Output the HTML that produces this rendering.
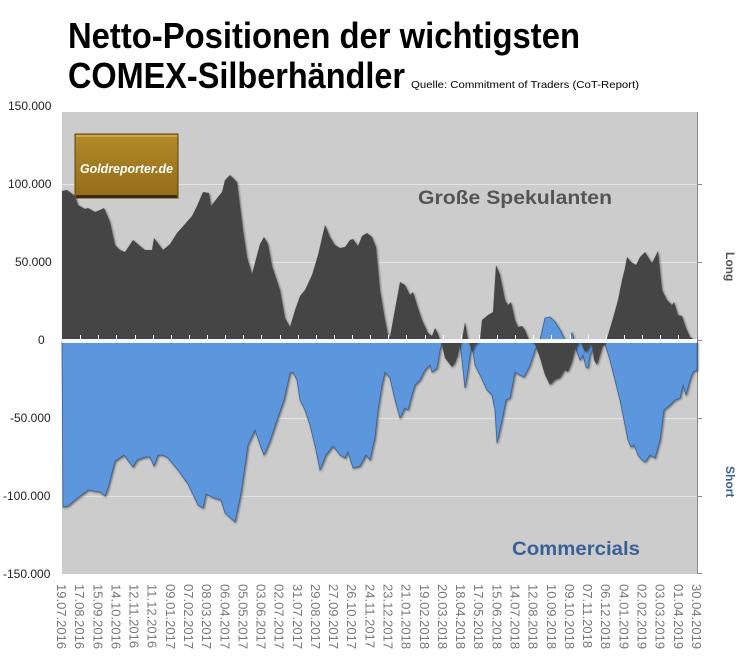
<!DOCTYPE html>
<html><head><meta charset="utf-8"><style>
html,body{margin:0;padding:0;background:#fff;}
svg{display:block;font-family:"Liberation Sans",sans-serif;}
</style></head><body>
<svg width="744" height="672" viewBox="0 0 744 672" xmlns="http://www.w3.org/2000/svg">
<defs>
<filter id="sh" x="-5%" y="-5%" width="110%" height="110%"><feDropShadow dx="1" dy="1" stdDeviation="1" flood-color="#000" flood-opacity="0.5"/></filter>
<linearGradient id="lg" x1="0" y1="0" x2="0" y2="1"><stop offset="0" stop-color="#b08a2a"/><stop offset="1" stop-color="#946c18"/></linearGradient>
</defs>
<text x="68" y="48" font-size="36" font-weight="bold" textLength="512" lengthAdjust="spacingAndGlyphs">Netto-Positionen der wichtigsten</text>
<text x="68" y="88" font-size="36" font-weight="bold" textLength="337" lengthAdjust="spacingAndGlyphs">COMEX-Silberhändler</text>
<text x="411" y="88" font-size="10.5" textLength="228" lengthAdjust="spacingAndGlyphs">Quelle: Commitment of Traders (CoT-Report)</text>
<rect x="62" y="112" width="635" height="462" fill="#cccccc"/>
<g stroke="#e4e4e4" stroke-width="1">
<line x1="62" y1="184.5" x2="697" y2="184.5"/><line x1="62" y1="262.5" x2="697" y2="262.5"/>
<line x1="62" y1="418.5" x2="697" y2="418.5"/><line x1="62" y1="496.5" x2="697" y2="496.5"/>
</g>
<g font-size="12" fill="#222">
<text x="8" y="110">150.000</text><text x="8" y="188">100.000</text><text x="15" y="266">50.000</text>
<text x="38" y="344">0</text><text x="10" y="422">-50.000</text><text x="3" y="500">-100.000</text><text x="3" y="578">-150.000</text>
</g>
<line x1="697.5" y1="112" x2="697.5" y2="574" stroke="#888"/>
<g stroke="#888"><line x1="697" y1="184.5" x2="702" y2="184.5"/><line x1="697" y1="262.5" x2="702" y2="262.5"/><line x1="697" y1="340.5" x2="702" y2="340.5"/><line x1="697" y1="418.5" x2="702" y2="418.5"/><line x1="697" y1="496.5" x2="702" y2="496.5"/><line x1="697" y1="573.5" x2="702" y2="573.5"/></g>
<path filter="url(#sh)" fill="#5b96dc" stroke="#3a5f90" stroke-width="0.8" d="M62,342 L63,507 68,506 75,500 88,490 100,492 105,496 108,488 115,461 124,455 133,467 137,460 145,457 150,457 154,466 158,455 162,455 167,457 178,470 188,484 198,505 203,508 206,494 214,498 221,500 225,513 235,522 241,493 248,445 255,430 262,450 264,455 270,441 277,420 284,400 290,373 293,372 297,380 300,400 305,410 310,425 316,450 320,470 326,455 333,446 340,455 345,458 348,452 353,468 360,466 366,455 370,460 375,437 378,410 382,385 385,372 390,378 395,400 400,418 405,408 408,410 412,395 415,385 420,380 425,370 430,365 432,372 437,368 440,350 442,344 460,344 462,360 465,388 468,370 470,355 472,345 475,365 480,375 487,390 492,395 495,410 497,443 502,420 506,400 510,398 515,372 520,375 524,377 530,365 535,350 538,344 540,340 545,318 550,317 555,322 560,330 565,340 570,340 572,333 574,340 575,344 577,352 580,360 583,355 586,367 588,368 590,355 595,345 605,344 610,360 615,380 620,400 625,425 628,440 631,447 634,445 638,455 642,460 645,462 650,455 655,458 660,440 664,410 670,405 675,400 680,398 683,385 686,395 690,380 693,372 697,370 L697,342 Z"/>
<path filter="url(#sh)" fill="#444" d="M62,340 L62,191 67,190 75,196 78,205 85,209 88,208 95,212 100,210 104,208 110,222 115,245 120,250 125,252 133,240 140,246 145,250 152,250 154,238 160,246 163,250 170,244 177,233 185,224 192,216 197,206 203,192 209,193 211,206 218,197 222,192 225,180 230,175 237,182 243,230 247,257 252,274 260,244 264,237 268,244 272,266 280,290 285,318 290,327 295,310 300,296 305,290 312,275 318,255 325,225 330,237 335,245 340,248 345,247 350,240 353,239 358,246 362,236 367,233 372,237 376,247 380,290 385,320 388,335 390,337 393,320 400,282 405,285 410,295 413,292 417,305 422,320 428,333 432,336 435,328 438,334 440,340 442,345 445,358 452,367 455,363 458,355 460,345 462,340 465,322 468,340 470,345 472,352 475,345 480,340 482,320 488,315 493,312 496,265 500,275 505,300 508,305 511,302 515,320 518,327 522,326 525,330 529,340 535,344 540,358 545,375 550,385 555,380 560,378 565,370 568,372 572,362 575,350 578,344 580,340 582,345 585,352 588,350 590,345 592,345 594,360 597,365 600,355 603,345 606,340 608,335 613,318 618,300 622,280 625,268 627,257 631,262 636,265 640,257 645,252 648,257 652,263 658,251 662,290 667,300 672,305 674,302 678,315 682,316 686,328 690,337 695,340 Z"/>
<rect x="62" y="339" width="635" height="4" fill="#f4f6f8"/>
<g stroke="#fff" stroke-width="1">
<line x1="80.5" y1="335" x2="80.5" y2="339"/><line x1="98.5" y1="335" x2="98.5" y2="339"/><line x1="116.5" y1="335" x2="116.5" y2="339"/><line x1="135.5" y1="335" x2="135.5" y2="339"/><line x1="153.5" y1="335" x2="153.5" y2="339"/><line x1="171.5" y1="335" x2="171.5" y2="339"/><line x1="189.5" y1="335" x2="189.5" y2="339"/><line x1="207.5" y1="335" x2="207.5" y2="339"/><line x1="225.5" y1="335" x2="225.5" y2="339"/><line x1="243.5" y1="335" x2="243.5" y2="339"/><line x1="261.5" y1="335" x2="261.5" y2="339"/><line x1="280.5" y1="335" x2="280.5" y2="339"/><line x1="298.5" y1="335" x2="298.5" y2="339"/><line x1="316.5" y1="335" x2="316.5" y2="339"/><line x1="334.5" y1="335" x2="334.5" y2="339"/><line x1="352.5" y1="335" x2="352.5" y2="339"/><line x1="370.5" y1="335" x2="370.5" y2="339"/><line x1="388.5" y1="335" x2="388.5" y2="339"/><line x1="406.5" y1="335" x2="406.5" y2="339"/><line x1="425.5" y1="335" x2="425.5" y2="339"/><line x1="443.5" y1="335" x2="443.5" y2="339"/><line x1="461.5" y1="335" x2="461.5" y2="339"/><line x1="479.5" y1="335" x2="479.5" y2="339"/><line x1="497.5" y1="335" x2="497.5" y2="339"/><line x1="515.5" y1="335" x2="515.5" y2="339"/><line x1="533.5" y1="335" x2="533.5" y2="339"/><line x1="551.5" y1="335" x2="551.5" y2="339"/><line x1="570.5" y1="335" x2="570.5" y2="339"/><line x1="588.5" y1="335" x2="588.5" y2="339"/><line x1="606.5" y1="335" x2="606.5" y2="339"/><line x1="624.5" y1="335" x2="624.5" y2="339"/><line x1="642.5" y1="335" x2="642.5" y2="339"/><line x1="660.5" y1="335" x2="660.5" y2="339"/><line x1="678.5" y1="335" x2="678.5" y2="339"/>
</g>
<rect x="75" y="134" width="103" height="64" fill="url(#lg)" stroke="#5a4210" stroke-width="1"/>
<rect x="76" y="135" width="101" height="2" fill="#c9a74a"/>
<rect x="76" y="195" width="101" height="3" fill="#3a2a08"/>
<text x="80" y="173" font-size="13" font-weight="bold" font-style="italic" fill="#fff" textLength="93" lengthAdjust="spacingAndGlyphs">Goldreporter.de</text>
<text x="418" y="204" font-size="19" font-weight="bold" fill="#555" textLength="194" lengthAdjust="spacingAndGlyphs">Große Spekulanten</text>
<text x="512" y="555" font-size="19" font-weight="bold" fill="#3a6196" textLength="128" lengthAdjust="spacingAndGlyphs">Commercials</text>
<text transform="translate(726,252) rotate(90)" font-size="12" font-weight="bold" fill="#555">Long</text>
<text transform="translate(726,466) rotate(90)" font-size="12" font-weight="bold" fill="#3a6196">Short</text>
<g font-size="13" fill="#777">
<text transform="translate(57,584) rotate(90)">19.07.2016</text>
<text transform="translate(75.1,584) rotate(90)">17.08.2016</text>
<text transform="translate(93.3,584) rotate(90)">15.09.2016</text>
<text transform="translate(111.4,584) rotate(90)">14.10.2016</text>
<text transform="translate(129.6,584) rotate(90)">12.11.2016</text>
<text transform="translate(147.7,584) rotate(90)">11.12.2016</text>
<text transform="translate(165.8,584) rotate(90)">09.01.2017</text>
<text transform="translate(184,584) rotate(90)">07.02.2017</text>
<text transform="translate(202.1,584) rotate(90)">08.03.2017</text>
<text transform="translate(220.3,584) rotate(90)">06.04.2017</text>
<text transform="translate(238.4,584) rotate(90)">05.05.2017</text>
<text transform="translate(256.5,584) rotate(90)">03.06.2017</text>
<text transform="translate(274.7,584) rotate(90)">02.07.2017</text>
<text transform="translate(292.8,584) rotate(90)">31.07.2017</text>
<text transform="translate(311,584) rotate(90)">29.08.2017</text>
<text transform="translate(329.1,584) rotate(90)">27.09.2017</text>
<text transform="translate(347.2,584) rotate(90)">26.10.2017</text>
<text transform="translate(365.4,584) rotate(90)">24.11.2017</text>
<text transform="translate(383.5,584) rotate(90)">23.12.2017</text>
<text transform="translate(401.7,584) rotate(90)">21.01.2018</text>
<text transform="translate(419.8,584) rotate(90)">19.02.2018</text>
<text transform="translate(437.9,584) rotate(90)">20.03.2018</text>
<text transform="translate(456.1,584) rotate(90)">18.04.2018</text>
<text transform="translate(474.2,584) rotate(90)">17.05.2018</text>
<text transform="translate(492.4,584) rotate(90)">15.06.2018</text>
<text transform="translate(510.5,584) rotate(90)">14.07.2018</text>
<text transform="translate(528.6,584) rotate(90)">12.08.2018</text>
<text transform="translate(546.8,584) rotate(90)">10.09.2018</text>
<text transform="translate(564.9,584) rotate(90)">09.10.2018</text>
<text transform="translate(583.1,584) rotate(90)">07.11.2018</text>
<text transform="translate(601.2,584) rotate(90)">06.12.2018</text>
<text transform="translate(619.3,584) rotate(90)">04.01.2019</text>
<text transform="translate(637.5,584) rotate(90)">02.02.2019</text>
<text transform="translate(655.6,584) rotate(90)">03.03.2019</text>
<text transform="translate(673.8,584) rotate(90)">01.04.2019</text>
<text transform="translate(691.9,584) rotate(90)">30.04.2019</text>
</g>
</svg>
</body></html>
